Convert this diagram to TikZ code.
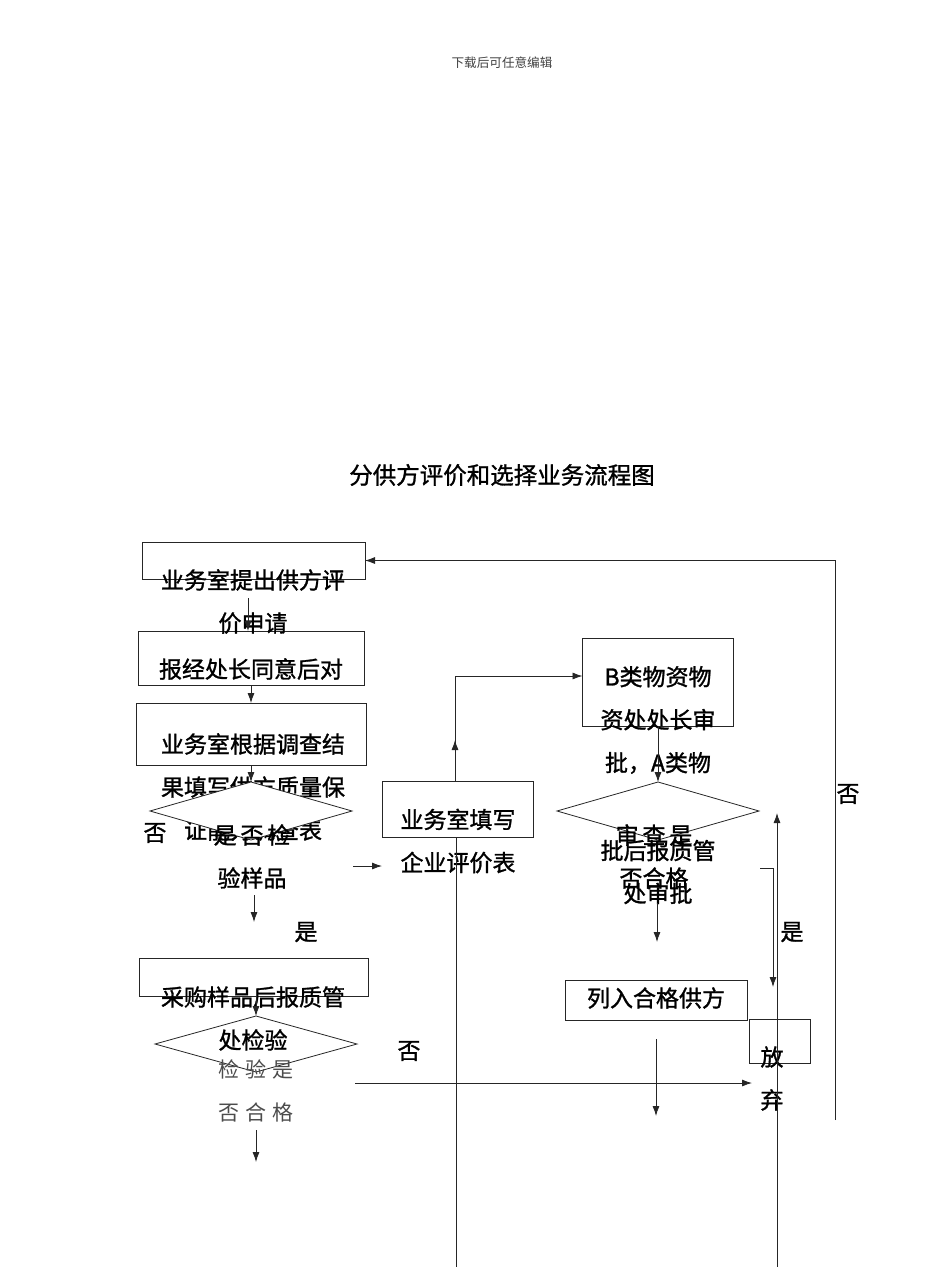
\documentclass[tikz,border=0pt]{standalone}
\usepackage{fontspec}
\newfontfamily\cjk[FakeBold=1.2]{Noto Sans CJK SC}
\newfontfamily\cjkplain{Noto Sans CJK SC}
\usetikzlibrary{shapes.geometric,arrows.meta}

\tikzset{
  box/.style={draw, fill=white, inner sep=0pt, outer sep=0pt},
  dia/.style={draw, fill=white, diamond, inner sep=0pt, outer sep=0pt},
  txt/.style={font={\cjk\fontsize{23}{43}\selectfont}, align=center, inner sep=0pt},
  thin txt/.style={font={\cjkplain\fontsize{21}{43}\selectfont}, align=center, inner sep=0pt, text=black!70},
}

\begin{document}
\begin{tikzpicture}[x=1pt, y=-1pt, line width=0.8pt, draw=black!85, >={Latex[length=10pt,width=7pt]}]
		\useasboundingbox (0,0) rectangle (950,1267);

		% 見出しとタイトル
		\node[txt, font={\cjkplain\fontsize{12.6}{14}\selectfont}, text=black!75] (head) at (502,63) {下载后可任意编辑};
		\node[txt, font={\cjk\fontsize{23.5}{28}\selectfont}] (title) at (502,475) {分供方评价和选择业务流程图};

		% 枠を描画
		\node[box, minimum width=223pt, minimum height=37pt] (boxA) at (253.5,560.5) {};
		\node[box, minimum width=226pt, minimum height=54pt] (boxB) at (251,658) {};
		\node[box, minimum width=230pt, minimum height=62pt] (boxC) at (251,734) {};
		\node[box, minimum width=151pt, minimum height=56pt] (boxE) at (457.5,809) {};
		\node[box, minimum width=151pt, minimum height=88pt] (boxF) at (658,682) {};
		\node[box, minimum width=182pt, minimum height=40pt] (boxG) at (656,1000) {};
		\node[box, minimum width=61pt, minimum height=44pt] (boxH) at (779.5,1041) {};
		\node[box, minimum width=229pt, minimum height=38pt] (boxI) at (253.5,977) {};

		% 枠の文字
		\node[txt] (tA) at (253,601.5) {业务室提出供方评\\价申请};
		\node[txt] (tB) at (251,669) {报经处长同意后对};
		\node[txt] (tC) at (253,787) {业务室根据调查结\\果填写供方质量保\\证能力调查表};
		\node[txt] (tE) at (458,841) {业务室填写\\企业评价表};
		\node[txt] (tF) at (658,720) {B类物资物\\资处处长审\\批，A类物};
		\node[txt] (tG) at (656,998) {列入合格供方};
		\node[txt] (tH) at (772,1078.5) {放\\弃};

		% ひし形を描画
		\node[dia, minimum width=202pt, minimum height=58pt] (diaA) at (251,811) {};
		\node[dia, minimum width=202pt, minimum height=58pt] (diaB) at (658,811) {};
		\node[dia, minimum width=202pt, minimum height=56pt] (diaC) at (256,1044) {};

		% ひし形の文字
		\node[txt] (tDA) at (252,856.5) {是\,否\,检\\验样品};
		\node[txt] (tDB) at (654,856.5) {审\,查\,是\\否合格};
		\node[txt] (tF2) at (658,872) {批后报质管\\处审批};
		\node[thin txt] (tDC) at (256,1090.5) {检\hspace{6pt}验\hspace{6pt}是\\否\hspace{6pt}合\hspace{6pt}格};
		\node[txt] (tI) at (253,1018.5) {采购样品后报质管\\处检验};

		% 是・否
		\node[txt] (no1) at (155,833) {否};
		\node[txt] (yes1) at (306,932) {是};
		\node[txt] (yes2) at (792,932) {是};
		\node[txt] (no2) at (848,794) {否};
		\node[txt] (no3) at (409,1051) {否};

		% 矢印の端
		\coordinate (a1) at (248,598);
		\coordinate (a2) at (254,895);
		\coordinate (a3) at (254,922);
		\coordinate (a4) at (353,866);
		\coordinate (e1) at (455,740);
		\coordinate (e2) at (455,745);
		\coordinate (e3) at (456,1267);
		\coordinate (b1) at (657,903);
		\coordinate (b2) at (657,942);
		\coordinate (b3) at (760,868);
		\coordinate (b4) at (773,987);
		\coordinate (c1) at (777,1267);
		\coordinate (c2) at (777,813);
		\coordinate (d1) at (835,1120);
		\coordinate (g1) at (656,1039);
		\coordinate (g2) at (656,1116);
		\coordinate (h1) at (355,1083);
		\coordinate (h2) at (752,1083);
		\coordinate (i1) at (256,1130);
		\coordinate (i2) at (256,1162);

		% 矢印を描画
		\draw[->] (a1) -- (a1 |- boxB.north);
		\draw[->] (boxB.south) -- (boxC.north);
		\draw[->] (boxC.south) -- (diaA.north);
		\draw[->] (a2) -- (a3);
		\draw[->] (a4) -- (a4 -| boxE.west);
		\draw[->] (e1 |- boxE.north) -- (e1);
		\draw[->] (e2) |- ([yshift=6pt]boxF.west);
		\draw (e3 |- boxE.south) -- (e3);
		\draw[->] (boxF.south) -- (diaB.north);
		\draw[->] (b1) -- (b2);
		\draw[->] (b3) -| (b4);
		\draw[->] (c1) -- (c2);
		\draw[->] (d1) |- (boxA.east);
		\draw[->] (g1) -- (g2);
		\draw[->] (h1) -- (h2);
		\draw[->] (boxI.south -| diaC.north) -- (diaC.north);
		\draw[->] (i1) -- (i2);

	\end{tikzpicture}
\end{document}
